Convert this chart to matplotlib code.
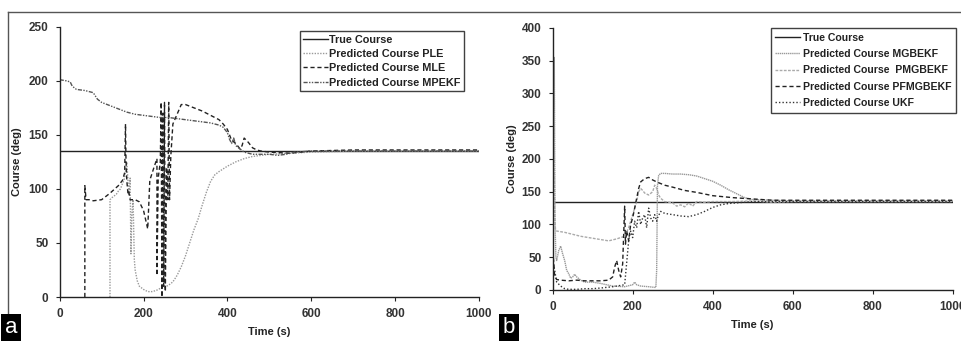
import matplotlib.pyplot as plt
from matplotlib.lines import Line2D

plt.rcParams['font.family'] = ['Liberation Sans', 'DejaVu Sans']

# ---------------- panel a data ----------------
true_a_t = [0, 1000]
true_a = [135, 135]

ple_t = [120, 120, 125, 135, 140, 145, 150, 155, 160, 165, 168, 170, 172, 175, 178, 180, 185,
         190, 200, 210, 220, 230, 240, 250, 260, 270, 280, 290, 300, 310, 320, 330, 340, 350,
         360, 370, 380, 400, 420, 440, 460, 480, 500, 550, 600, 700, 800, 1000]
ple = [0, 90, 92, 95, 98, 100, 105, 110, 125, 95, 110, 40, 75, 90, 35, 25, 15,
       10, 7, 5, 5, 6, 8, 9, 11, 14, 20, 28, 38, 50, 62, 72, 85, 97,
       107, 113, 116, 121, 125, 128, 130, 131, 132, 133, 134, 135, 135, 135]

mle_t = [60, 60, 63, 65, 70, 80, 100, 120, 140, 150, 155, 157, 158, 160, 163, 165, 168,
         175, 180, 190, 200, 210, 215, 225, 232, 232, 235, 240, 242, 244, 246, 248, 250,
         252, 255, 258, 260, 262, 265, 270, 290, 300, 320, 340, 360, 380, 390, 400, 410,
         420, 430, 435, 440, 450, 460, 470, 480, 500, 550, 600, 700, 800, 1000]
mle = [0, 103, 90, 90, 90, 89, 90, 96, 103, 108, 115, 160, 130, 108, 95, 97, 90,
       90, 90, 88, 80, 63, 108, 120, 128, 20, 110, 125, 180, 0, 170, 10, 180,
       5, 120, 90, 180, 90, 130, 160, 178, 178, 175, 172, 168, 164, 160, 155, 145,
       142, 137, 140, 147, 143, 138, 136, 135, 134, 133, 135, 136, 136, 136]

mpekf_t = [0, 15, 25, 30, 40, 60, 80, 90, 100, 120, 140, 160, 180, 200, 220, 240, 260,
           280, 300, 320, 340, 360, 380, 390, 400, 405, 410, 415, 420, 430, 440, 450,
           460, 480, 500, 520, 540, 560, 600, 700, 800, 1000]
mpekf = [201, 200, 199, 195, 192, 191, 189, 183, 180, 177, 174, 171, 169, 168, 167, 166, 166,
         165, 164, 163, 162, 161, 159, 157, 152, 146, 142, 147, 140, 137, 134, 133,
         132, 132, 132, 131, 132, 134, 135, 135, 135, 135]

# ---------------- panel b data ----------------
true_b_t = [0, 1000]
true_b = [135, 135]

mgbekf_t = [0, 4, 6, 8, 10, 15, 20, 25, 30, 35, 40, 45, 50, 55, 60, 70, 80, 100, 120, 150,
            180, 200, 205, 210, 220, 240, 255, 258, 260, 262, 265, 270, 280, 300, 320, 340,
            360, 380, 400, 420, 440, 460, 480, 500, 550, 600, 800, 1000]
mgbekf = [40, 355, 100, 50, 45, 60, 67, 55, 45, 30, 25, 18, 20, 24, 20, 15, 12, 12, 10, 6,
          5, 8, 12, 8, 6, 5, 4, 4, 30, 160, 175, 178, 178, 177, 177, 176,
          174, 170, 166, 160, 153, 147, 141, 138, 137, 136, 136, 136]

pmgbekf_t = [0, 3, 5, 7, 10, 30, 50, 70, 100, 120, 140, 160, 170, 180, 190, 200, 205, 210,
             215, 220, 225, 230, 240, 250, 255, 260, 265, 270, 280, 300, 310, 320, 330,
             340, 350, 360, 380, 400, 450, 500, 550, 600, 800, 1000]
pmgbekf = [30, 270, 120, 92, 90, 88, 85, 82, 79, 77, 75, 78, 80, 82, 95, 115, 125, 135,
           150, 155, 152, 148, 145, 150, 160, 155, 145, 140, 135, 133, 128, 130, 127,
           133, 128, 135, 134, 135, 135, 136, 134, 135, 135, 135]

pfmgbekf_t = [0, 3, 5, 8, 10, 20, 40, 60, 80, 100, 120, 140, 150, 155, 160, 165, 170,
              175, 180, 182, 185, 190, 195, 200, 205, 210, 215, 220, 230, 240, 250, 260,
              280, 300, 330, 360, 400, 450, 500, 550, 600, 700, 800, 1000]
pfmgbekf = [60, 40, 20, 18, 16, 15, 14, 15, 14, 14, 14, 15, 20, 35, 45, 30, 20,
            40, 128, 70, 90, 75, 100, 110, 125, 140, 155, 165, 170, 172, 168, 165,
            160, 157, 152, 149, 144, 141, 139, 137, 137, 137, 137, 137]

ukf_t = [0, 5, 10, 20, 30, 40, 60, 80, 100, 120, 150, 180, 190, 195, 200, 205, 210, 215,
         220, 225, 230, 235, 240, 245, 250, 255, 260, 262, 270, 280, 300, 320, 340, 360,
         380, 400, 420, 440, 460, 480, 500, 550, 600, 800, 1000]
ukf = [45, 30, 12, 6, 2, 1, 1, 2, 2, 3, 5, 8, 75, 90, 80, 105, 95, 120,
       100, 110, 115, 95, 125, 110, 105, 115, 105, 110, 120, 117, 115, 113, 112, 115,
       120, 126, 130, 132, 133, 134, 135, 135, 135, 135, 135]


def style_axes(ax, ymax, ystep):
    ax.set_xlim(0, 1000)
    ax.set_ylim(0, ymax)
    ax.set_xticks(range(0, 1001, 200))
    ax.set_yticks(range(0, ymax + 1, ystep))
    for s in ['top', 'right']:
        ax.spines[s].set_visible(False)
    for s in ['left', 'bottom']:
        ax.spines[s].set_color('#222222')
        ax.spines[s].set_linewidth(1.0)
    ax.tick_params(direction='out', length=3, width=0.8, pad=5, colors='#222222')
    for lab in ax.get_xticklabels() + ax.get_yticklabels():
        lab.set_fontsize(8.5)
        lab.set_fontweight('bold')
        lab.set_color('#333333')
    ax.set_xlabel('Time (s)', fontsize=8, fontweight='bold', color='#222222', labelpad=5)
    ax.set_ylabel('Course (deg)', fontsize=8, fontweight='bold', color='#222222')
    ax.yaxis.set_label_coords(-0.09, 0.5)


fig = plt.figure(figsize=(9.61, 3.41), dpi=100)

# ---- panel a ----
ax1 = fig.add_axes([0.0621, 0.129, 0.4363, 0.7927])
ax1.plot(true_a_t, true_a, color='#222222', lw=1.0, label='True Course')
ax1.plot(ple_t, ple, color='#999999', lw=1.0, ls=(0, (1, 1)), label='Predicted Course PLE')
ax1.plot(mle_t, mle, color='#222222', lw=1.0, ls=(0, (3, 2)), label='Predicted Course MLE')
ax1.plot(mpekf_t, mpekf, color='#555555', lw=1.0, ls=(0, (3, 1, 1, 1, 1, 1)),
         label='Predicted Course MPEKF')
style_axes(ax1, 250, 50)
leg1 = ax1.legend(loc='upper left', bbox_to_anchor=(0.572, 0.985), fontsize=7.8,
                  frameon=True, fancybox=False, handlelength=2.3, handletextpad=0.1,
                  borderpad=0.35, labelspacing=0.4, borderaxespad=0)
leg1.get_frame().set_edgecolor('#111111')
leg1.get_frame().set_linewidth(1.0)
for t in leg1.get_texts():
    t.set_fontweight('bold')
    t.set_color('#222222')

# ---- panel b ----
ax2 = fig.add_axes([0.5751, 0.1496, 0.4162, 0.7683])
ax2.plot(true_b_t, true_b, color='#222222', lw=1.0, label='True Course')
ax2.plot(mgbekf_t, mgbekf, color='#999999', lw=1.0, ls=(0, (1, 0.5)),
         label='Predicted Course MGBEKF')
ax2.plot(pmgbekf_t, pmgbekf, color='#aaaaaa', lw=1.0, ls=(0, (2, 1)),
         label='Predicted Course  PMGBEKF')
ax2.plot(pfmgbekf_t, pfmgbekf, color='#222222', lw=1.0, ls=(0, (3, 2)),
         label='Predicted Course PFMGBEKF')
ax2.plot(ukf_t, ukf, color='#333333', lw=1.0, ls=(0, (1, 1.5)),
         label='Predicted Course UKF')
style_axes(ax2, 400, 50)
leg2 = ax2.legend(loc='upper left', bbox_to_anchor=(0.545, 1.0), fontsize=7.6,
                  frameon=True, fancybox=False, handlelength=2.3, handletextpad=0.3,
                  borderpad=0.45, labelspacing=0.6, borderaxespad=0)
leg2.get_frame().set_edgecolor('#111111')
leg2.get_frame().set_linewidth(1.0)
for t in leg2.get_texts():
    t.set_fontweight('bold')
    t.set_color('#222222')

# ---- outer frame lines ----
fig.add_artist(Line2D([8 / 961, 1.0], [1 - 12 / 341, 1 - 12 / 341], color='#555555', lw=1.0))
fig.add_artist(Line2D([8 / 961, 8 / 961], [1 - 12 / 341, 1 - 322 / 341], color='#555555', lw=1.0))

# ---- panel labels ----
fig.text(0.005, 0.008, 'a', fontsize=16, color='white', va='bottom', ha='left',
         bbox=dict(facecolor='black', edgecolor='none', pad=2.5))
fig.text(0.523, 0.008, 'b', fontsize=16, color='white', va='bottom', ha='left',
         bbox=dict(facecolor='black', edgecolor='none', pad=2.5))

fig.savefig('out.png', dpi=100)
